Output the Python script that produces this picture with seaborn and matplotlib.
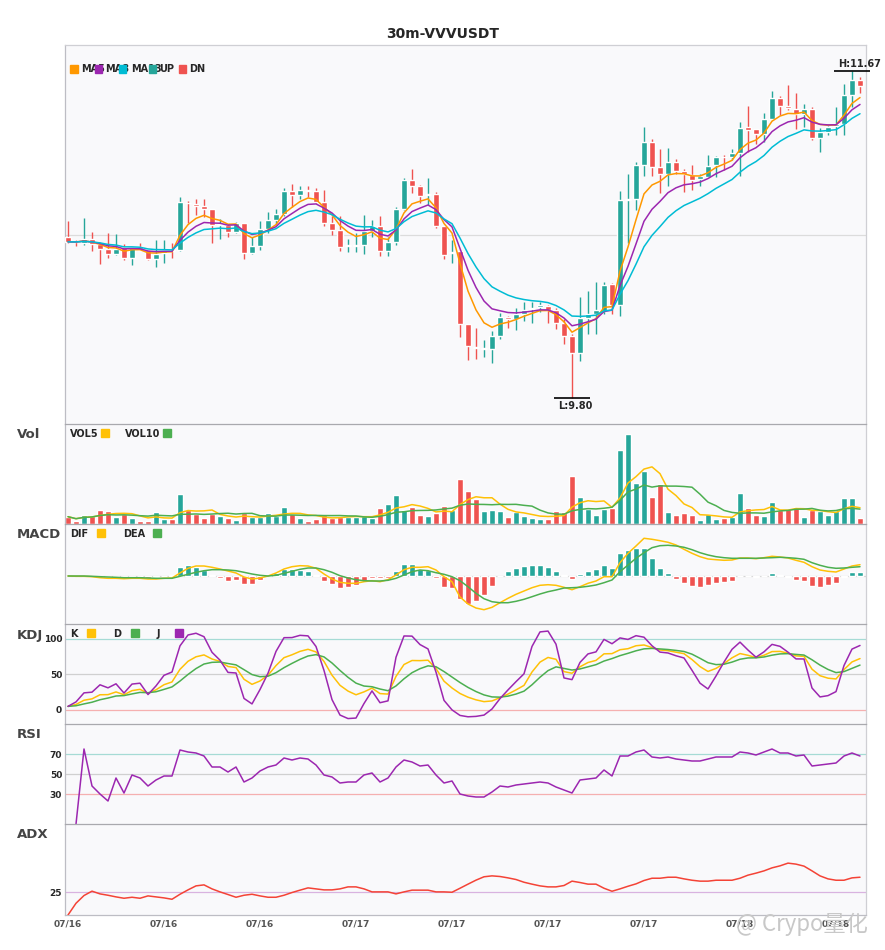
import numpy as np
import pandas as pd
import seaborn as sns
import matplotlib
matplotlib.use("Agg")
import matplotlib.pyplot as plt
from matplotlib.patches import Rectangle

# ---- 30m candles (100 bars) ----
opens = [10.718, 10.698, 10.684, 10.712, 10.678, 10.653, 10.622, 10.665, 10.602, 10.665,
         10.649, 10.596, 10.630, 10.645, 10.645, 10.917, 10.911, 10.897, 10.880, 10.790,
         10.790, 10.749, 10.800, 10.630, 10.668, 10.766, 10.817, 10.852, 10.983, 10.962,
         10.989, 10.985, 10.920, 10.802, 10.760, 10.668, 10.672, 10.676, 10.756, 10.783,
         10.642, 10.691, 10.882, 11.046, 11.014, 10.962, 10.966, 10.783, 10.628, 10.640,
         10.221, 10.090, 10.078, 10.080, 10.153, 10.260, 10.253, 10.279, 10.309, 10.321,
         10.325, 10.302, 10.229, 10.153, 10.057, 10.256, 10.282, 10.298, 10.450, 10.330,
         10.934, 10.939, 11.130, 11.264, 11.120, 11.082, 11.149, 11.100, 11.073, 11.050,
         11.065, 11.130, 11.180, 11.176, 11.202, 11.348, 11.337, 11.311, 11.397, 11.519,
         11.468, 11.451, 11.424, 11.456, 11.290, 11.321, 11.355, 11.370, 11.531, 11.619]
highs = [10.811, 10.705, 10.829, 10.749, 10.684, 10.741, 10.737, 10.680, 10.665, 10.684,
         10.649, 10.703, 10.706, 10.684, 10.949, 10.926, 10.936, 10.937, 10.880, 10.821,
         10.790, 10.806, 10.800, 10.718, 10.811, 10.863, 10.882, 11.000, 11.023, 11.014,
         11.012, 11.000, 10.989, 10.840, 10.840, 10.710, 10.741, 10.846, 10.817, 10.840,
         10.722, 10.890, 11.058, 11.109, 11.018, 11.058, 10.981, 10.783, 10.703, 10.645,
         10.225, 10.202, 10.130, 10.183, 10.286, 10.271, 10.317, 10.347, 10.347, 10.347,
         10.330, 10.317, 10.254, 10.168, 10.378, 10.412, 10.464, 10.464, 10.458, 10.983,
         11.080, 11.149, 11.349, 11.281, 11.226, 11.229, 11.166, 11.111, 11.130, 11.084,
         11.189, 11.183, 11.189, 11.226, 11.378, 11.470, 11.337, 11.432, 11.556, 11.527,
         11.588, 11.544, 11.481, 11.462, 11.342, 11.355, 11.462, 11.596, 11.670, 11.634]
lows = [10.687, 10.672, 10.674, 10.642, 10.567, 10.600, 10.619, 10.588, 10.562, 10.645,
        10.590, 10.550, 10.573, 10.602, 10.642, 10.798, 10.844, 10.833, 10.687, 10.708,
        10.722, 10.741, 10.594, 10.624, 10.645, 10.745, 10.794, 10.840, 10.893, 10.937,
        10.951, 10.918, 10.783, 10.731, 10.642, 10.632, 10.632, 10.623, 10.722, 10.613,
        10.613, 10.676, 10.874, 10.974, 10.913, 10.903, 10.775, 10.594, 10.572, 10.149,
        10.015, 10.023, 10.034, 10.000, 10.138, 10.198, 10.187, 10.241, 10.229, 10.292,
        10.229, 10.195, 10.107, 9.800, 10.012, 10.168, 10.168, 10.282, 10.282, 10.269,
        10.687, 10.874, 11.071, 11.071, 10.975, 11.014, 11.080, 10.979, 10.987, 11.014,
        11.061, 11.065, 11.105, 11.164, 11.071, 11.210, 11.252, 11.264, 11.390, 11.418,
        11.445, 11.340, 11.351, 11.275, 11.208, 11.302, 11.302, 11.302, 11.462, 11.546]
closes = [10.693, 10.690, 10.712, 10.678, 10.653, 10.624, 10.653, 10.602, 10.665, 10.649,
          10.594, 10.626, 10.645, 10.640, 10.920, 10.913, 10.899, 10.880, 10.790, 10.795,
          10.749, 10.798, 10.630, 10.668, 10.766, 10.817, 10.852, 10.983, 10.962, 10.989,
          10.985, 10.920, 10.802, 10.760, 10.665, 10.672, 10.674, 10.754, 10.783, 10.642,
          10.691, 10.882, 11.046, 11.014, 10.955, 10.966, 10.785, 10.619, 10.634, 10.221,
          10.095, 10.088, 10.082, 10.153, 10.260, 10.253, 10.279, 10.305, 10.316, 10.330,
          10.302, 10.229, 10.153, 10.057, 10.256, 10.282, 10.302, 10.447, 10.330, 10.932,
          10.941, 11.130, 11.264, 11.120, 11.082, 11.149, 11.100, 11.080, 11.046, 11.069,
          11.126, 11.180, 11.176, 11.202, 11.344, 11.332, 11.311, 11.395, 11.519, 11.472,
          11.458, 11.424, 11.454, 11.290, 11.321, 11.351, 11.365, 11.531, 11.619, 11.586]
volumes = [22, 10, 28, 25, 43, 40, 22, 31, 19, 10, 10, 37, 16, 16, 91, 43, 29, 19, 29, 25,
           19, 13, 33, 20, 20, 33, 25, 52, 31, 19, 10, 16, 28, 19, 22, 22, 22, 25, 19, 49,
           61, 87, 43, 52, 28, 25, 34, 55, 43, 136, 100, 76, 40, 43, 40, 22, 37, 25, 19, 16,
           16, 40, 37, 145, 82, 46, 28, 46, 49, 223, 271, 124, 160, 82, 121, 37, 28, 34, 28, 13,
           31, 16, 19, 22, 94, 49, 28, 25, 67, 43, 46, 52, 22, 43, 40, 28, 40, 79, 79, 19]

# MACD (x1e-3)
dif_vals = [0, -0.3, -0.3, -0.7, -1.7, -2.3, -2.3, -2.7, -2.3, -2.3, -3, -3, -2.3, -2, 3,
            7.7, 10, 10, 8.7, 7, 5, 3, -1, -3, -2, 0, 3, 7, 9.3, 10.3, 10, 7.7, 2, -3, -6.3,
            -7.3, -7.3, -5.7, -4.7, -5.7, -3.7, 1, 6.3, 8.7, 8.7, 9.3, 6, -0.7, -5.7, -21,
            -28, -32, -33.7, -31.3, -26.7, -22.3, -18.3, -15, -11.7, -9.3, -8.7, -9.3, -11.3,
            -13.7, -10.7, -7.3, -5, -0.7, -0.7, 13.3, 22.7, 30, 37.7, 36.7, 35.3, 33.7, 31,
            26.7, 22.7, 19.3, 17, 16.3, 15.7, 16, 18, 18, 17.3, 18.3, 19.7, 19, 18, 15.7, 13.7,
            9.3, 6, 4.7, 4, 7, 10, 11.3]
dea_vals = [0, 0, 0, -0.3, -0.7, -1, -1.3, -1.7, -1.7, -1.7, -2, -2.3, -2.3, -2.3, -0.3,
            1.7, 3.7, 5.3, 6.3, 6.3, 6, 5.3, 3.7, 2, 0.7, 0, 0.7, 2.7, 4.7, 6.7, 8, 8, 6.3,
            3.7, 0.3, -2, -3.7, -4.7, -5, -5, -4.3, -2.3, 1, 4.3, 6, 5.3, 3.3, 1.7, -0.7,
            -4.7, -10.7, -17.3, -22.7, -25.7, -26.7, -26.7, -25.3, -23.3, -20.7, -18, -15.7,
            -14, -12, -11.7, -11.3, -10.3, -9, -6.7, -4, 4.3, 11, 17.7, 23.3, 28.3, 30.3,
            30.7, 30, 28.7, 26.3, 23.3, 21, 19.3, 18.3, 17.7, 17.7, 17.7, 17.7, 18, 18.3,
            18.7, 18.3, 17.7, 16.7, 13.3, 10.7, 8.7, 7.7, 8, 8.7, 9.3]
hist_vals = [0, 0, 0, 0, -1.3, -1.3, -1, -1.3, -1, -0.3, -1.5, -1.3, -0.3, 1.3, 9, 11, 9, 6,
             1, -1.7, -5, -4, -8, -8, -4, 1, 3, 7, 7, 6, 5, 1, -5, -8, -12, -11, -9, -4.7,
             -2.3, -2.3, -2.3, 5, 12, 12, 6.7, 6, -2, -11.3, -12.3, -23.3, -28, -25, -19, -10,
             0, 4.7, 8, 10, 10.7, 10.7, 8.7, 4.7, 1, -3, 1.7, 4.7, 6.7, 10.7, 8, 22.7, 25.7,
             27.7, 27.7, 17.7, 7.7, 2.7, -3, -7.3, -10, -11, -9, -7.3, -6, -5, 0, 0, -1, 0,
             2.7, 1, -1, -4, -5, -10, -11, -9, -7, -1, 3.7, 3.7]

# oscillators
rsi_vals = [np.nan, 0, 75, 38, 30, 23, 46, 31, 49, 46, 38, 44, 48, 48, 74, 72, 71, 68, 57, 57,
            52, 57, 42, 46, 53, 57, 59, 66, 64, 66, 65, 59, 49, 47, 41, 42, 42, 49, 51, 42,
            46, 57, 64, 62, 58, 59, 49, 41, 43, 30, 28, 27, 27, 32, 38, 37, 39, 40, 41, 42,
            41, 37, 34, 31, 44, 45, 46, 54, 48, 68, 68, 72, 74, 67, 66, 67, 65, 64, 63, 63,
            65, 67, 67, 67, 72, 71, 69, 72, 75, 71, 71, 68, 69, 58, 59, 60, 61, 68, 71, 68]
adx_vals = [0, 12.9, 21.4, 26.2, 23.2, 21.7, 19.9, 18.4, 19.5, 18.4, 21.0, 19.9, 18.8, 17.3,
            22.8, 27.6, 32.0, 33.1, 28.7, 25.4, 22.5, 19.5, 21.7, 22.8, 21.0, 19.5, 19.5, 21.7,
            24.7, 27.3, 29.8, 28.7, 27.6, 27.6, 28.7, 30.9, 30.9, 28.7, 25.4, 25.4, 25.4, 23.2,
            25.4, 27.3, 27.3, 27.3, 25.4, 25.4, 25.0, 29.4, 33.9, 38.3, 42.0, 43.0, 42.3, 40.8,
            39.0, 36.0, 33.9, 32.0, 30.9, 30.9, 32.4, 37.2, 35.7, 33.9, 33.9, 29.4, 26.1, 28.7,
            31.6, 34.2, 37.9, 40.4, 40.4, 41.5, 41.5, 39.7, 38.2, 37.2, 37.2, 38.2, 38.2, 38.2,
            40.4, 43.8, 46.0, 48.5, 51.8, 54.0, 57.0, 55.9, 53.7, 48.5, 43.0, 39.7, 38.2, 38.2,
            40.8, 41.5]

tick_pos = [0, 12, 24, 36, 48, 60, 72, 84, 96]
tick_labels = ["07/16", "07/16", "07/16", "07/17", "07/17", "07/17", "07/17", "07/18", "07/18"]

UP, DN = "#26a69a", "#ef5350"
C_MA = ["#ff9800", "#9c27b0", "#00bcd4"]
YEL, GRN, PUR = "#ffc107", "#4caf50", "#9c27b0"

df = pd.DataFrame({"open": opens, "high": highs, "low": lows, "close": closes, "vol": volumes,
                   "dif": dif_vals, "dea": dea_vals, "hist": hist_vals,
                   "rsi": rsi_vals, "adx": adx_vals})
df["x"] = np.arange(len(df))
c = df["close"]
for span, name in [(5, "ma1"), (8, "ma2"), (13, "ma3")]:
    df[name] = c.ewm(span=span, adjust=False).mean()
df["vol5"] = df["vol"].rolling(5, min_periods=1).mean()
df["vol10"] = df["vol"].rolling(10, min_periods=1).mean()
ll = df["low"].rolling(9, min_periods=1).min()
hh = df["high"].rolling(9, min_periods=1).max()
rsv = (c - ll) / (hh - ll) * 100
df["k"] = rsv.ewm(com=2, adjust=False).mean()
df["d"] = df["k"].ewm(com=2, adjust=False).mean()
df["j"] = 3 * df["k"] - 2 * df["d"]
up = df["close"] >= df["open"]
colors = np.where(up, UP, DN)

sns.set_theme(style="white")
plt.rcParams["font.family"] = ["DejaVu Sans"]

W, H = 885, 950
fig = plt.figure(figsize=(W / 100, H / 100), dpi=100)
fig.patch.set_facecolor("white")


def box(top, bottom):
    return [65 / W, 1 - bottom / H, 801 / W, (bottom - top) / H]


def fx(x):
    return x / W


def fy(y):
    return 1 - y / H


ax_main = fig.add_axes(box(45, 424))
ax_vol = fig.add_axes(box(424, 524), sharex=ax_main)
ax_macd = fig.add_axes(box(524, 624), sharex=ax_main)
ax_kdj = fig.add_axes(box(624, 724), sharex=ax_main)
ax_rsi = fig.add_axes(box(724, 824), sharex=ax_main)
ax_adx = fig.add_axes(box(824, 915), sharex=ax_main)
axes = [ax_main, ax_vol, ax_macd, ax_kdj, ax_rsi, ax_adx]

for a in axes:
    a.set_facecolor("#f9f9fb")
    a.grid(False)
    for s in a.spines.values():
        s.set_linewidth(0.9)
    a.spines["left"].set_color("#bdbdc4")
    a.spines["right"].set_color("#cfcfd4")
    a.spines["top"].set_color("#a9a9ae")
    a.spines["bottom"].set_visible(False)
    a.tick_params(length=0, labelsize=6.5, pad=2)
    a.set_yticks([])
    a.tick_params(axis="x", labelbottom=False)
ax_main.spines["top"].set_color("#cfcfd4")
ax_adx.spines["bottom"].set_visible(True)
ax_adx.spines["bottom"].set_color("#bdbdc4")

# ---- candles ----
hi_max, lo_min = df["high"].max(), df["low"].min()
rng = hi_max - lo_min
ax_main.axhline((hi_max + lo_min) / 2, color="#dcdcdc", lw=0.9, zorder=1)
ax_main.vlines(df["x"], df["low"], df["high"], color=colors, lw=1, zorder=2)
body = np.maximum((df["close"] - df["open"]).abs(), 0.005)
ax_main.bar(df["x"], body, bottom=np.minimum(df["open"], df["close"]), width=0.75,
            color=colors, zorder=3)
for name, col in zip(["ma1", "ma2", "ma3"], C_MA):
    sns.lineplot(x=df["x"], y=df[name], ax=ax_main, color=col, lw=1.1, legend=False, zorder=4)
ax_main.set_ylim(lo_min - 0.08 * rng, hi_max + 0.08 * rng)

ih, il = int(df["high"].idxmax()), int(df["low"].idxmin())
ax_main.hlines(hi_max, ih - 2.25, ih + 2.25, color="black", lw=1.2, clip_on=False, zorder=5)
ax_main.text(ih + 1.0, hi_max + 0.012, f"H:{hi_max:.2f}", ha="center", va="bottom",
             fontsize=7, fontweight="bold", clip_on=False)
ax_main.hlines(lo_min, il - 2.25, il + 2.25, color="black", lw=1.2, clip_on=False, zorder=5)
ax_main.text(il + 0.4, lo_min - 0.02, f"L:{lo_min:.2f}", ha="center", va="top",
             fontsize=7, fontweight="bold")

# ---- volume ----
ax_vol.bar(df["x"], df["vol"], width=0.75, color=colors, zorder=2)
sns.lineplot(x=df["x"], y=df["vol5"], ax=ax_vol, color=YEL, lw=1.1, legend=False, zorder=3)
sns.lineplot(x=df["x"], y=df["vol10"], ax=ax_vol, color=GRN, lw=1.1, legend=False, zorder=3)
ax_vol.set_ylim(0, df["vol"].max() / 0.9)

# ---- MACD ----
ax_macd.axhline(0, color="#d4d4d4", lw=0.9, zorder=1)
ax_macd.bar(df["x"], df["hist"], width=0.75, color=np.where(df["hist"] >= 0, UP, DN), zorder=2)
sns.lineplot(x=df["x"], y=df["dif"], ax=ax_macd, color=YEL, lw=1.1, legend=False, zorder=3)
sns.lineplot(x=df["x"], y=df["dea"], ax=ax_macd, color=GRN, lw=1.1, legend=False, zorder=3)
m_lo = min(df["dif"].min(), df["dea"].min(), df["hist"].min())
m_hi = max(df["dif"].max(), df["dea"].max(), df["hist"].max())
ax_macd.set_ylim(m_lo - 0.2 * (m_hi - m_lo), m_hi + 0.2 * (m_hi - m_lo))

# ---- KDJ ----
for lvl, col in [(100, "#a6dbd5"), (50, "#d0d0d0"), (0, "#f5b0b0")]:
    ax_kdj.axhline(lvl, color=col, lw=0.9, zorder=1)
sns.lineplot(x=df["x"], y=df["k"], ax=ax_kdj, color=YEL, lw=1.1, legend=False, zorder=3)
sns.lineplot(x=df["x"], y=df["d"], ax=ax_kdj, color=GRN, lw=1.1, legend=False, zorder=3)
sns.lineplot(x=df["x"], y=df["j"], ax=ax_kdj, color=PUR, lw=1.1, legend=False, zorder=3)
ax_kdj.set_ylim(-20, 121)
ax_kdj.set_yticks([0, 50, 100])

# ---- RSI ----
for lvl, col in [(70, "#a6dbd5"), (50, "#d0d0d0"), (30, "#f5b0b0")]:
    ax_rsi.axhline(lvl, color=col, lw=0.9, zorder=1)
ax_rsi.plot(df["x"], df["rsi"], color=PUR, lw=1.1, zorder=3)
ax_rsi.set_ylim(0, 100)
ax_rsi.set_yticks([30, 50, 70])

# ---- ADX ----
ax_adx.axhline(25, color="#d9b3e0", lw=0.9, zorder=1)
sns.lineplot(x=df["x"], y=df["adx"], ax=ax_adx, color="#f44336", lw=1.1, legend=False, zorder=3)
ax_adx.set_ylim(0, 100)
ax_adx.set_yticks([25])
ax_adx.set_xticks(tick_pos)
ax_adx.set_xticklabels(tick_labels)
ax_adx.tick_params(axis="x", labelbottom=True, labelsize=6.5, colors="#555555", pad=3)

for a in axes:
    a.set_xlabel("")
    a.set_ylabel("")
    for lab in a.get_yticklabels() + a.get_xticklabels():
        lab.set_fontweight("bold")
ax_main.set_xlim(-0.375, 99.75)

# ---- titles, panel names, legends ----
fig.text(fx(443), fy(34), "30m-VVVUSDT", ha="center", va="center", fontsize=10, fontweight="bold")
for name, y in [("Vol", 435), ("MACD", 535), ("KDJ", 635), ("RSI", 735), ("ADX", 835)]:
    fig.text(fx(17), fy(y), name, ha="left", va="center", fontsize=9.5, fontweight="bold",
             color="#444444")


def square(x, y, col):
    fig.add_artist(Rectangle((fx(x), fy(y + 3.7)), 7.5 / W, 7.5 / H, color=col,
                             transform=fig.transFigure, zorder=6))


for sx, tx, col, lab in [(70, 81, C_MA[0], "MA5"), (94.5, 105, C_MA[1], "MA8"),
                         (118.5, 131, C_MA[2], "MA13"), (148.5, 159, UP, "UP"), (178.5, 189, DN, "DN")]:
    fig.text(fx(tx), fy(69), lab, ha="left", va="center", fontsize=7, fontweight="bold", zorder=3)
    square(sx, 69, col)

for items, y in [([(70, 101, YEL, "VOL5"), (125, 163, GRN, "VOL10")], 434),
                 ([(70, 97, YEL, "DIF"), (123, 153, GRN, "DEA")], 534),
                 ([(70, 87, YEL, "K"), (113, 131, GRN, "D"), (157, 175, PUR, "J")], 634)]:
    for tx, sx, col, lab in items:
        fig.text(fx(tx), fy(y), lab, ha="left", va="center", fontsize=7, fontweight="bold")
        square(sx, y - 1, col)

fig.text(fx(736), fy(924), "@ Crypo量化", ha="left", va="center", fontsize=16, color="#c8c8c8",
         family=["Noto Sans CJK SC", "DejaVu Sans"], zorder=10)

fig.savefig("out.png", dpi=100)
